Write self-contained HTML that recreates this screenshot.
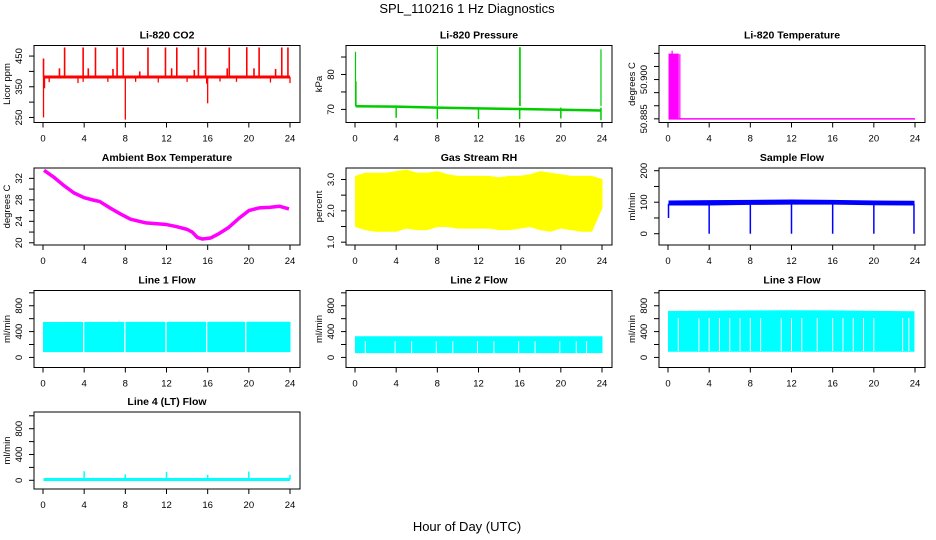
<!DOCTYPE html>
<html><head><meta charset="utf-8"><style>
html,body{margin:0;padding:0;background:#fff;}
svg{display:block;font-family:"Liberation Sans",sans-serif;}
</style></head><body>
<svg id="fig" width="936" height="540" viewBox="0 0 936 540">
<text x="467" y="13" text-anchor="middle" font-size="13">SPL_110216  1 Hz Diagnostics</text>
<text x="467" y="531" text-anchor="middle" font-size="13">Hour of Day (UTC)</text>
</svg>
<script>
// ---- data ----
const xTicks = [0,4,8,12,16,20,24];
// CO2
const co2BaseT = [0.05, 24];
const co2Base = [382, 382];
const co2UpT = [2.1,3.9,5.1,7.2,7.8,10.2,11.9,13.0,15.1,15.8,18.1,19.8,21.0,23.2,23.8, 1.6,4.4,6.8,9.4,12.5,14.7,17.9,20.5,22.6,0.05];
const co2UpV = [478,478,478,478,478,478,478,478,478,478,478,479,478,478,478, 410,410,408,400,410,405,410,410,408,442];
const co2DnT = [0.05,0.15,8.0,16.0,0.6,3.4,6.3,9.0,11.2,14.0,17.2,18.8,22.1,24.0,15.9,3.9];
const co2DnV = [250,345,243,296,365,362,366,366,364,366,367,366,364,362,360,366];
// Pressure
const presT = [0.05,4,8,12,16,20,23.9];
const presBase = [70.9,70.8,70.5,70.3,70.1,69.9,69.7];
const presUpT = [0.05,0.1,8.0,16.0,16.05,23.9];
const presUpV = [86.5,78,88,87.8,87.8,87.2];
const presDnT = [4,8,12,16,20,23.9];
const presDnV = [67.6,67.2,67.2,67.2,67.4,66.9];
// Li-820 temperature
const tmpBlockT = [0.1,1.0];
const tmpBlockV = [50.9097,50.9097];
const tmpSpikeT = [0.4,1.15];
const tmpSpikeV = [50.911,50.9097];
const tmpBaseT = [0.05,24];
const tmpBaseV = [50.885,50.885];
// Ambient box temperature
const ambT = [0.1,1,2,3,4,5,5.5,6.5,7.5,8.5,10,12,13,14,14.5,15,15.5,16.3,17,18,19,20,21,22,23,23.9];
const ambV = [33.5,32.3,30.7,29.3,28.4,27.9,27.7,26.5,25.4,24.4,23.7,23.4,23.0,22.5,22.0,21.0,20.7,20.9,21.6,22.8,24.5,26.0,26.5,26.6,26.8,26.3];
// Gas stream RH
const rhT = [0.05,1,2,3,4,5,6,7,8,9,10,11,12,13,14,15,16,17,18,19,20,21,22,23,24];
const rhHi = [3.1,3.2,3.2,3.2,3.25,3.3,3.2,3.2,3.25,3.15,3.1,3.1,3.1,3.1,3.05,3.1,3.1,3.15,3.25,3.2,3.15,3.1,3.1,3.1,3.0];
const rhLo = [1.5,1.4,1.35,1.35,1.35,1.45,1.4,1.4,1.5,1.5,1.45,1.45,1.45,1.45,1.4,1.4,1.45,1.5,1.4,1.35,1.45,1.4,1.35,1.35,2.1];
// Sample flow
const sfT = [0.1,4,8,12,16,20,23.9];
const sfHi = [104,105,106,107,106,104,103];
const sfLo = [91,91,93,94,94,92,91];
const sfDipT = [0.05,4,8,12,16,20,23.9];
const sfDipV = [50,0,0,0,0,0,0];
// Line flows
const l1T = [0.05,24]; const l1Hi = [540,545]; const l1Lo = [90,90];
const l1GapT = [3.95,7.95,11.95,15.9,19.7];
const l2T = [0.05,24]; const l2Hi = [320,320]; const l2Lo = [75,75];
const l2GapT = [1,3.9,7.9,11.9,15.9,19.9,5.5,9.5,13.5,17.5,21.5,22.5];
const l3T = [0.05,4,8,12,16,20,23.9]; const l3Hi = [710,715,720,722,720,712,708]; const l3Lo = [95,95,95,95,95,95,95];
const l3GapT = [1.0,3.0,4.0,5.0,6.0,7.0,8.0,9.0,11.0,12.0,13.0,14.5,16.0,17.0,18.0,19.0,20.0,22.8,23.4];
const l4T = [0.05,24]; const l4V = [12,12];
const l4SpT = [4,8,12,16,20,24];
const l4SpV = [140,90,130,85,135,85];

// ---- layout ----
const NS = "http://www.w3.org/2000/svg";
const svg = document.getElementById('fig');
const colL = [34,346,659], rowT = [45.5,168,290.5,412], W = 266, H = 77;
function mk(tag, attrs, parent){ const e=document.createElementNS(NS,tag); for(const k in attrs) e.setAttribute(k,attrs[k]); (parent||svg).appendChild(e); return e; }

function panel(name, col, row, title, ylab, ymin, ymax, ticks, labels, draw){
  const L=colL[col], T=rowT[row], B=T+H;
  const g = mk('g',{});
  
  
  const sx = h => L+9 + h/24*(W-19);
  const sy = v => T + (ymax-v)/(ymax-ymin)*H;
  const plot = mk('g',{},g);
  
  
  draw(plot, sx, sy);
  const box = mk('rect',{x:L,y:T,width:W,height:H,fill:'none',stroke:'#000','stroke-width':1},g);
  
  
  const t = mk('text',{x:L+W/2,y:T-7,'text-anchor':'middle','font-size':10.5,'font-weight':'bold'},g);
  t.textContent = title;
  
  
  const xa = mk('g',{},g);
  
  
  mk('line',{x1:sx(0),x2:sx(24),y1:B,y2:B,stroke:'#000'},xa);
  xTicks.forEach(h=>{
    mk('line',{x1:sx(h),x2:sx(h),y1:B,y2:B+5,stroke:'#000'},xa);
    const tx = mk('text',{x:sx(h),y:B+19,'text-anchor':'middle','font-size':9.5},xa);
    tx.textContent = h;
  });
  const ya = mk('g',{},g);
  
  
  mk('line',{x1:L,x2:L,y1:sy(ticks[0]),y2:sy(ticks[ticks.length-1]),stroke:'#000'},ya);
  ticks.forEach(v=>{ mk('line',{x1:L-5,x2:L,y1:sy(v),y2:sy(v),stroke:'#000'},ya); });
  labels.forEach(v=>{
    const y=sy(parseFloat(v)), x=L-12;
    const tx = mk('text',{x:x,y:y,'text-anchor':'middle','font-size':9.5,transform:`rotate(-90 ${x} ${y})`},ya);
    tx.textContent = v;
  });
  const yt = mk('text',{x:L-24,y:T+H/2,'text-anchor':'middle','font-size':9.5,transform:`rotate(-90 ${L-24} ${T+H/2})`},g);
  yt.textContent = ylab;
  
  
}
function band(p, sx, sy, T, hi, lo, color){
  let d='M'+T.map((t,i)=>sx(t)+','+sy(hi[i])).join('L');
  d+='L'+T.slice().reverse().map((t,i)=>sx(t)+','+sy(lo[T.length-1-i])).join('L')+'Z';
  mk('path',{d:d,fill:color,stroke:color,'stroke-width':1},p);
}
function vlines(p, sx, sy, T, V, base, color, w){
  T.forEach((t,i)=>{ const bv = Array.isArray(base)?base[i]:base;
    mk('line',{x1:sx(t),x2:sx(t),y1:sy(bv),y2:sy(V[i]),stroke:color,'stroke-width':w||1.3},p); });
}
function poly(p, sx, sy, T, V, color, w){
  mk('polyline',{points:T.map((t,i)=>sx(t)+','+sy(V[i])).join(' '),fill:'none',stroke:color,'stroke-width':w,'stroke-linejoin':'round'},p);
}

panel('co2',0,0,'Li-820 CO2','Licor ppm',233.6,484.4,[250,300,350,400,450],['250','350','450'],(p,sx,sy)=>{
  vlines(p,sx,sy,co2UpT,co2UpV,382,'#ff0000',1.6);
  vlines(p,sx,sy,co2DnT,co2DnV,382,'#ff0000',1.3);
  poly(p,sx,sy,co2BaseT,co2Base,'#ff0000',3);
});
panel('pressure',1,0,'Li-820 Pressure','kPa',66.25,88.3,[70,75,80,85],['70','80'],(p,sx,sy)=>{
  poly(p,sx,sy,presT,presBase,'#00cc00',2.5);
  vlines(p,sx,sy,presUpT,presUpV,71,'#00cc00',1.2);
  vlines(p,sx,sy,presDnT,presDnV,70.5,'#00cc00',1.5);
});
panel('li820-temp',2,0,'Li-820 Temperature','degrees C',50.8836,50.913,[50.885,50.89,50.895,50.9,50.905,50.91],['50.885','50.900'],(p,sx,sy)=>{
  band(p,sx,sy,tmpBlockT,tmpBlockV,[50.885,50.885],'#ff00ff');
  vlines(p,sx,sy,tmpSpikeT,tmpSpikeV,50.885,'#ff00ff',1.2);
  poly(p,sx,sy,tmpBaseT,tmpBaseV,'#ff00ff',1.5);
});
panel('ambient-temp',0,1,'Ambient Box Temperature','degrees C',19.59,33.93,[20,22,24,26,28,30,32],['20','24','28','32'],(p,sx,sy)=>{
  poly(p,sx,sy,ambT,ambV,'#ff00ff',3.5);
});
panel('gas-rh',1,1,'Gas Stream RH','percent',0.91,3.366,[1,1.5,2,2.5,3],['1.0','2.0','3.0'],(p,sx,sy)=>{
  band(p,sx,sy,rhT,rhHi,rhLo,'#ffff00');
});
panel('sample-flow',2,1,'Sample Flow','ml/min',-35.8,208.6,[0,50,100,150,200],['0','100','200'],(p,sx,sy)=>{
  band(p,sx,sy,sfT,sfHi,sfLo,'#0000ff');
  vlines(p,sx,sy,sfDipT,sfDipV,95,'#0000ff',1.5);
});
const fT=[0,200,400,600,800,1000], fL=['0','400','800'];
panel('line1-flow',0,2,'Line 1 Flow','ml/min',-156,1036,fT,fL,(p,sx,sy)=>{
  band(p,sx,sy,l1T,l1Hi,l1Lo,'#00ffff');
  vlines(p,sx,sy,l1GapT,l1GapT.map(()=>570),60,'#ffffff',1.3);
});
panel('line2-flow',1,2,'Line 2 Flow','ml/min',-156,1036,fT,fL,(p,sx,sy)=>{
  band(p,sx,sy,l2T,l2Hi,l2Lo,'#00ffff');
  vlines(p,sx,sy,l2GapT,l2GapT.map(()=>250),70,'#ffffff',1);
});
panel('line3-flow',2,2,'Line 3 Flow','ml/min',-156,1036,fT,fL,(p,sx,sy)=>{
  band(p,sx,sy,l3T,l3Hi,l3Lo,'#00ffff');
  vlines(p,sx,sy,l3GapT,l3GapT.map(()=>610),100,'#ffffff',1);
});
panel('line4-flow',0,3,'Line 4 (LT) Flow','ml/min',-135,1059,fT,fL,(p,sx,sy)=>{
  poly(p,sx,sy,l4T,l4V,'#00ffff',3);
  vlines(p,sx,sy,l4SpT,l4SpV,12,'#00ffff',1.5);
});
</script>
</body></html>
